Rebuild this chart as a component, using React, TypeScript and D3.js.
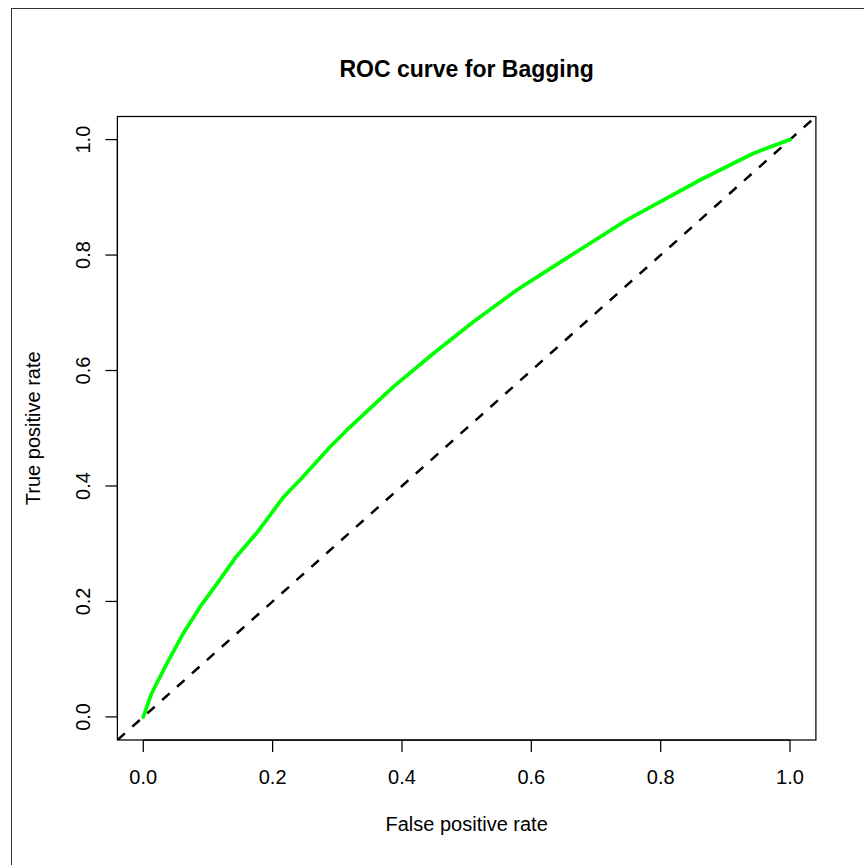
import React from 'react';
import { scaleLinear, line, format } from 'd3';

// ROC points
const fpr = [0, 0.013, 0.034, 0.062, 0.088, 0.116, 0.144, 0.175, 0.217, 0.247, 0.289, 0.315, 0.387, 0.448, 0.51, 0.577, 0.634, 0.686, 0.748, 0.799, 0.861, 0.918, 0.943, 0.997, 1];
const tpr = [0, 0.041, 0.087, 0.145, 0.191, 0.234, 0.278, 0.318, 0.381, 0.416, 0.468, 0.497, 0.572, 0.629, 0.684, 0.739, 0.78, 0.817, 0.861, 0.892, 0.93, 0.962, 0.976, 0.999, 1];
const ticks = [0, 0.2, 0.4, 0.6, 0.8, 1];
const diagonal = [-0.04, 1.04];

const title = 'ROC curve for Bagging';
const xTitle = 'False positive rate';
const yTitle = 'True positive rate';

const W = 864;
const H = 865;
const font = '"Liberation Sans", Arial, Helvetica, sans-serif';

export default function App() {
	// plot region (R pads the data range by 4% each side)
	const left = 117.4;
	const right = 815.9;
	const top = 116.5;
	const bottom = 740;

	const x = scaleLinear().domain([-0.04, 1.04]).range([left, right]);
	const y = scaleLinear().domain([-0.04, 1.04]).range([bottom, top]);
	const fmt = format('.1f');

	const pts = fpr.map((f, i) => [f, tpr[i]] as [number, number]);
	const rocPath = line<[number, number]>()
		.x((d) => x(d[0]))
		.y((d) => y(d[1]))(pts);

	const diagPath = line<number>()
		.x((d) => x(d))
		.y((d) => y(d))(diagonal);

	const cx = (left + right) / 2;
	const cy = (top + bottom) / 2;

	return (
		<svg
			width={W}
			height={H}
			style={{ position: 'absolute', left: 0, top: 0, background: '#fff' }}
			fontFamily={font}>
			<defs>
				<clipPath id="plotClip">
					<rect x={left} y={top} width={right - left} height={bottom - top} />
				</clipPath>
			</defs>
			<rect x={0} y={0} width={W} height={H} fill="#fff" />
			{/* outer frame, runs off the right/bottom edge */}
			<rect x={11.5} y={8.5} width={1000} height={1000} fill="none" stroke="#333" strokeWidth={1} />

			<text x={cx} y={77} textAnchor="middle" fontSize={23} fontWeight="bold" fill="#000">
				{title}
			</text>

			<g clipPath="url(#plotClip)">
				<path d={diagPath || ''} fill="none" stroke="#000" strokeWidth={2.5} strokeDasharray="10 10" />
				<path
					d={rocPath || ''}
					fill="none"
					stroke="#00ff00"
					strokeWidth={3.75}
					strokeLinejoin="round"
					strokeLinecap="round"
				/>
			</g>

			<rect
				x={left}
				y={top}
				width={right - left}
				height={bottom - top}
				fill="none"
				stroke="#000"
				strokeWidth={1.25}
			/>

			{/* x axis */}
			<g>
				<line x1={x(0)} x2={x(1)} y1={bottom} y2={bottom} stroke="#000" strokeWidth={1.25} />
				{ticks.map((t) => (
					<g key={'x' + t}>
						<line x1={x(t)} x2={x(t)} y1={bottom} y2={bottom + 12} stroke="#000" strokeWidth={1.25} />
						<text x={x(t)} y={783.5} textAnchor="middle" fontSize={20} fill="#000">
							{fmt(t)}
						</text>
					</g>
				))}
				<text x={cx} y={831} textAnchor="middle" fontSize={20} fill="#000">
					{xTitle}
				</text>
			</g>

			{/* y axis */}
			<g>
				<line x1={left} x2={left} y1={y(0)} y2={y(1)} stroke="#000" strokeWidth={1.25} />
				{ticks.map((t) => (
					<g key={'y' + t}>
						<line x1={left - 12} x2={left} y1={y(t)} y2={y(t)} stroke="#000" strokeWidth={1.25} />
						<text
							transform={`translate(90, ${y(t)}) rotate(-90)`}
							textAnchor="middle"
							fontSize={20}
							fill="#000">
							{fmt(t)}
						</text>
					</g>
				))}
				<text transform={`translate(40, ${cy}) rotate(-90)`} textAnchor="middle" fontSize={20} fill="#000">
					{yTitle}
				</text>
			</g>
		</svg>
	);
}
